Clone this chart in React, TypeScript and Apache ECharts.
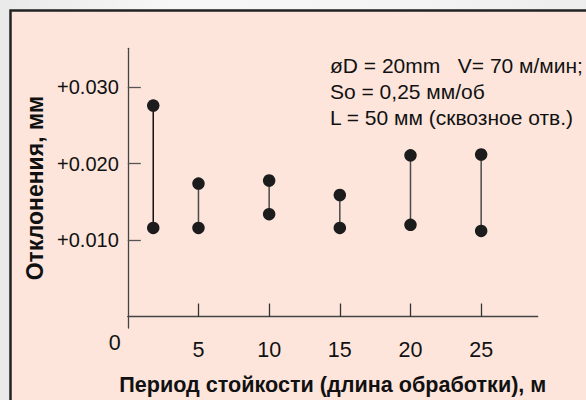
import React, { useEffect, useRef } from "react";
import * as echarts from "echarts";

const xPositions = [1.8, 5, 10, 15, 20, 25];
const lowValues = [0.0116, 0.0116, 0.0134, 0.0116, 0.012, 0.0112];
const highValues = [0.0276, 0.0174, 0.0178, 0.0159, 0.0211, 0.0212];
const yTickValues = [0.01, 0.02, 0.03];
const yTickLabels = ["+0.010", "+0.020", "+0.030"];
const xTickValues = [5, 10, 15, 20, 25];
const xLabelValues = [0, 5, 10, 15, 20, 25];
const annotationLines = [
  "øD = 20mm   V= 70 м/мин;",
  "So = 0,25 мм/об",
  "L = 50 мм (сквозное отв.)",
];
const xAxisTitle = "Период стойкости (длина обработки), м";
const yAxisTitle = "Отклонения, мм";

const FONT = "'Liberation Sans', Arial, sans-serif";

export default function App() {
  const ref = useRef<HTMLDivElement>(null);
  useEffect(() => {
    document.body.style.margin = "0";
    const chart = echarts.init(ref.current!, null, { renderer: "svg" });
    const series = xPositions.map((x, i) => ({
      type: "line",
      data: [
        [x, lowValues[i]],
        [x, highValues[i]],
      ],
      symbol: "circle",
      symbolSize: 12.5,
      itemStyle: { color: "#1c1c1c" },
      lineStyle: { color: i === 0 ? "#111" : "#4a4a4a", width: 1.5 },
      z: 3,
    }));
    chart.setOption({
      animation: false,
      backgroundColor: "transparent",
      textStyle: { fontFamily: FONT },
      grid: { left: 127.8, right: 48.3, top: 48.3, bottom: 68.3, containLabel: false },
      xAxis: {
        type: "value",
        min: 0,
        max: 29,
        splitLine: { show: false },
        axisLine: { lineStyle: { color: "#444", width: 1.3 } },
        axisTick: {
          inside: true,
          length: 13,
          customValues: xTickValues,
          lineStyle: { color: "#333", width: 1.3 },
        },
        axisLabel: {
          customValues: xLabelValues,
          margin: 11,
          color: "#111",
          fontSize: 21.5,
          fontFamily: FONT,
          formatter: (v: number) => (v === 0 ? "{z|0}" : String(v)),
          rich: {
            z: { fontSize: 21.5, fontFamily: FONT, color: "#111", lineHeight: 8, padding: [0, 26, 0, 0] },
          },
        },
        name: xAxisTitle,
        nameLocation: "middle",
        nameGap: 45,
        nameTextStyle: { fontSize: 21.6, fontWeight: "bold", color: "#111", fontFamily: FONT },
      },
      yAxis: {
        type: "value",
        min: -0.0015,
        max: 0.0351,
        splitLine: { show: false },
        axisLine: { show: true, lineStyle: { color: "#444", width: 1.3 } },
        axisTick: {
          show: true,
          inside: true,
          length: 13,
          customValues: yTickValues,
          lineStyle: { color: "#555", width: 1.3 },
        },
        axisLabel: {
          customValues: yTickValues,
          margin: 9,
          color: "#111",
          fontSize: 20,
          fontFamily: FONT,
          formatter: (v: number) => {
            const idx = yTickValues.findIndex((t) => Math.abs(t - v) < 1e-9);
            return idx >= 0 ? yTickLabels[idx] : "";
          },
        },
        name: yAxisTitle,
        nameLocation: "middle",
        nameGap: 75,
        nameTextStyle: { fontSize: 23, fontWeight: "bold", color: "#111", fontFamily: FONT },
      },
      graphic: [
        {
          type: "rect",
          z: -10,
          shape: { x: 10.5, y: 10.5, width: 620, height: 420 },
          style: { fill: "#fde5dc", stroke: "#222", lineWidth: 2.5 },
          silent: true,
        },
        {
          type: "text",
          x: 330,
          y: 52,
          z: 5,
          style: {
            text: annotationLines.join("\n"),
            font: `21px ${FONT}`,
            lineHeight: 26,
            fill: "#111",
          },
        },
      ],
      series,
    });
    return () => chart.dispose();
  }, []);
  return (
    <div
      style={{
        width: 586,
        height: 400,
        background: "linear-gradient(90deg, #e9e9e9 0%, #f7f7f7 30%, #f4f4f4 70%, #ededed 100%)",
      }}
    >
      <div ref={ref} style={{ width: 586, height: 400 }} />
    </div>
  );
}
